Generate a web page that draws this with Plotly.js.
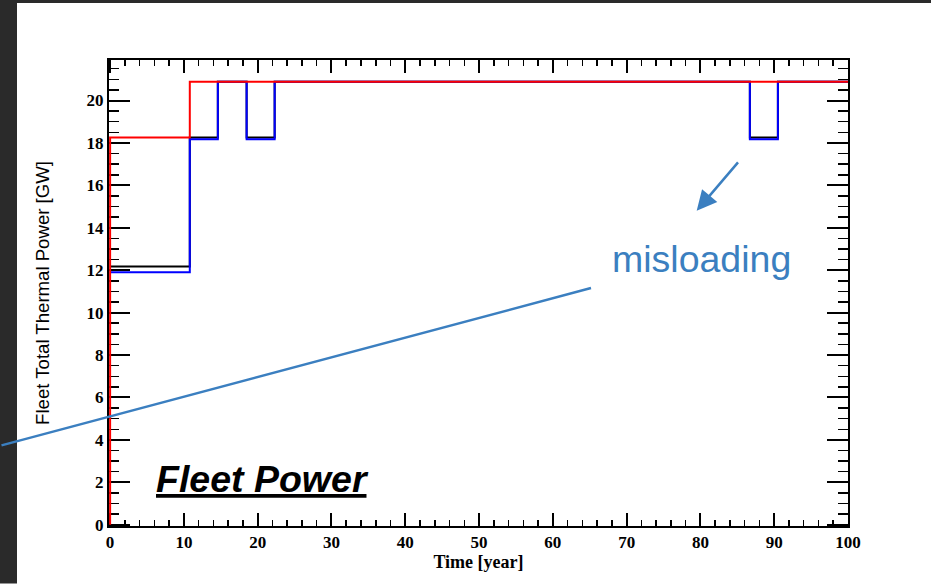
<!DOCTYPE html>
<html>
<head>
<meta charset="utf-8">
<script src="https://cdn.plot.ly/plotly-3.0.1.min.js"></script>
<style>
html,body{margin:0;padding:0;background:#fff;}
#chart{width:931px;height:584px;}
</style>
</head>
<body>
<div id="chart"></div>
<script>
// Step series (time in years, fleet total thermal power in GW); drawn with 'hv' steps
const blackTime  = [0, 10.8, 14.6, 18.5, 22.3, 86.7, 90.5, 100];
const blackPower = [12.17, 18.26, 20.88, 18.26, 20.88, 18.26, 20.88, 20.88];

const blueTime  = [0, 10.8, 14.6, 18.5, 22.3, 86.7, 90.5, 100];
const bluePower = [11.9, 18.17, 20.88, 18.17, 20.88, 18.17, 20.88, 20.88];

const redTime  = [0, 0, 10.8, 100];
const redPower = [0, 18.26, 20.88, 20.88];

const xTickVals = [0, 10, 20, 30, 40, 50, 60, 70, 80, 90, 100];
const yTickVals = [0, 2, 4, 6, 8, 10, 12, 14, 16, 18, 20];

const xLabel = 'Time [year]';
const yLabel = 'Fleet Total Thermal Power [GW]';
const chartLabel = 'Fleet Power';
const noteLabel = 'misloading';

// plot geometry (pixels)
const L = 109, R = 83, T = 60, B = 57.5;
const W = 931 - L - R, H = 584 - T - B;
const px = v => (v - L) / W;          // page x pixel -> paper
const py = v => (584 - B - v) / H;    // page y pixel -> paper

const noteColor = '#3b7fc0';
const serif = 'Liberation Serif, Times New Roman, serif';
const sans = 'Liberation Sans, Arial, sans-serif';

const traces = [
  {x: blackTime, y: blackPower, mode: 'lines', line: {color: '#000000', width: 2, shape: 'hv'}, hoverinfo: 'skip'},
  {x: blueTime, y: bluePower, mode: 'lines', line: {color: '#0000ff', width: 2, shape: 'hv'}, hoverinfo: 'skip'},
  {x: redTime, y: redPower, mode: 'lines', line: {color: '#ff0000', width: 2, shape: 'hv'}, hoverinfo: 'skip'}
];

const axisCommon = {
  showgrid: false, zeroline: false,
  showline: true, linecolor: '#000', linewidth: 2,
  mirror: 'allticks', ticks: 'inside', tickcolor: '#000', tickwidth: 2,
  tickfont: {family: serif, size: 17, color: '#000', weight: 'bold'},
  layer: 'below traces'
};

const layout = {
  width: 931, height: 584,
  margin: {l: L, r: R, t: T, b: B},
  paper_bgcolor: '#ffffff', plot_bgcolor: '#ffffff',
  showlegend: false,
  xaxis: Object.assign({}, axisCommon, {
    range: [-0.15, 100], tickvals: xTickVals, ticklen: 13,
    minor: {dtick: 2, ticklen: 6, ticks: 'inside', tickcolor: '#000', tickwidth: 1.5},
    title: {text: xLabel, font: {family: serif, size: 18, color: '#000', weight: 'bold'}, standoff: 4}
  }),
  yaxis: Object.assign({}, axisCommon, {
    range: [-0.06, 21.91], tickvals: yTickVals, ticklen: 21,
    minor: {dtick: 0.5, ticklen: 10, ticks: 'inside', tickcolor: '#000', tickwidth: 1.5},
    title: {text: yLabel, font: {family: sans, size: 18.6, color: '#000'}, standoff: 32}
  }),
  shapes: [
    {type: 'rect', xref: 'paper', yref: 'paper', x0: px(0), x1: px(17), y0: py(584), y1: py(0),
     fillcolor: '#2a2a2a', line: {width: 0}, layer: 'below'},
    {type: 'rect', xref: 'paper', yref: 'paper', x0: px(0), x1: px(931), y0: py(3), y1: py(0),
     fillcolor: '#2a2a2a', line: {width: 0}, layer: 'below'}
  ],
  annotations: [
    {xref: 'paper', yref: 'paper', x: px(262.5), y: py(479), text: '<u>' + chartLabel + '</u>',
     showarrow: false, xanchor: 'center', yanchor: 'middle',
     font: {family: sans, size: 37.5, color: '#000', weight: 'bold', style: 'italic'}},
    {xref: 'paper', yref: 'paper', x: px(701), y: py(259), text: noteLabel,
     showarrow: false, xanchor: 'center', yanchor: 'middle',
     font: {family: sans, size: 37.5, color: noteColor}},
    {xref: 'paper', yref: 'paper', x: px(696.7), y: py(211), text: '',
     showarrow: true, axref: 'pixel', ayref: 'pixel', ax: 739.3 - 696.7, ay: 161 - 211,
     arrowhead: 2, arrowsize: 1.6, arrowwidth: 2.5, arrowcolor: noteColor, standoff: 0, startstandoff: 0},
    {xref: 'paper', yref: 'paper', x: px(591), y: py(288.3), text: '',
     showarrow: true, axref: 'pixel', ayref: 'pixel', ax: 0 - 591, ay: 446 - 288.3,
     arrowhead: 0, arrowwidth: 2.5, arrowcolor: noteColor, standoff: 0, startstandoff: 0}
  ]
};

Plotly.newPlot('chart', traces, layout, {displayModeBar: false, staticPlot: true});
</script>
</body>
</html>
